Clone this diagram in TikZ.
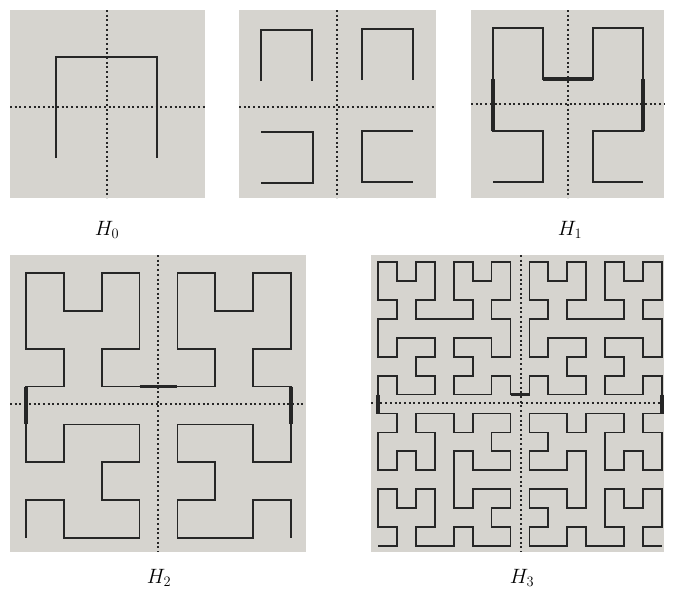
\documentclass[tikz,border=0pt]{standalone}
\usetikzlibrary{lindenmayersystems}
\pgfdeclarelindenmayersystem{Hilbert curve}{
  \rule{L -> +RF-LFL-FR+}
  \rule{R -> -LF+RFR+FL-}}
\definecolor{panel}{RGB}{214,212,207}
\definecolor{ink}{RGB}{38,38,38}
\begin{document}
\begin{tikzpicture}[x=1pt,y=-1pt,
  panelbox/.style={fill=panel, draw=none},
  axisline/.style={ink, line width=2pt, dash pattern=on 2pt off 2.7pt},
  curve/.style={ink, line width=1.8pt, line join=miter},
  bridge/.style={ink, line width=3.6pt},
  lab/.style={font=\fontsize{22}{26}\selectfont, inner sep=0pt}]
\useasboundingbox[fill=white] (0,0) rectangle (691,589);

% ---------- H0 ----------
\fill[panelbox] (10,10) rectangle (205,198);
\draw[axisline] (107,10) -- (107,198);
\draw[axisline] (10,107) -- (205,107);
\draw[curve] (56,158) -- (56,57) -- (157,57) -- (157,158);
\node[lab] (l0) at (107,230) {$H_0$};

% ---------- four copies ----------
\fill[panelbox] (239,10) rectangle (436,198);
\draw[axisline] (337,10) -- (337,198);
\draw[axisline] (239,107) -- (436,107);
\draw[curve] (261,81) -- (261,30) -- (312,30) -- (312,81);
\draw[curve] (362,80) -- (362,29) -- (413,29) -- (413,80);
\draw[curve] (261,132) -- (313,132) -- (313,183) -- (261,183);
\draw[curve] (413,131) -- (362,131) -- (362,182) -- (413,182);

% ---------- H1 ----------
\fill[panelbox] (471,10) rectangle (664,198);
\draw[axisline] (568,10) -- (568,198);
\draw[axisline] (471,104) -- (664,104);
\draw[curve] (493,182) -- (543,182) -- (543,131) -- (493,131) -- (493,79) -- (493,28)
  -- (543,28) -- (543,79) -- (593,79) -- (593,28) -- (643,28) -- (643,79)
  -- (643,131) -- (593,131) -- (593,182) -- (643,182);
\draw[bridge] (493,131) -- (493,79);
\draw[bridge] (543,79) -- (593,79);
\draw[bridge] (643,79) -- (643,131);
\node[lab] (l1) at (570,230) {$H_1$};

% ---------- H2 ----------
\fill[panelbox] (10,255) rectangle (306,552);
\draw[axisline] (158,255) -- (158,552);
\draw[axisline] (10,404) -- (306,404);
\begin{scope}[shift={(26,538)}]
\draw[curve, lindenmayer system={Hilbert curve, axiom=L, order=3, step=37.86pt, angle=90}]
  lindenmayer system;
\end{scope}
\draw[bridge] (26,386.6) -- (26,424.4);
\draw[bridge] (139.6,386.6) -- (177.4,386.6);
\draw[bridge] (291,386.6) -- (291,424.4);
\node[lab] (l2) at (159,578) {$H_2$};

% ---------- H3 ----------
\fill[panelbox] (371,255) rectangle (664,552);
\draw[axisline] (521,255) -- (521,552);
\draw[axisline] (371,403) -- (664,403);
\begin{scope}[shift={(378,546)}]
\draw[curve, lindenmayer system={Hilbert curve, axiom=L, order=4, step=18.93pt, angle=90}]
  lindenmayer system;
\end{scope}
\draw[bridge] (378,394.5) -- (378,413.5);
\draw[bridge] (510.5,394.5) -- (529.5,394.5);
\draw[bridge] (662,394.5) -- (662,413.5);
\node[lab] (l3) at (522,578) {$H_3$};
\end{tikzpicture}
\end{document}
